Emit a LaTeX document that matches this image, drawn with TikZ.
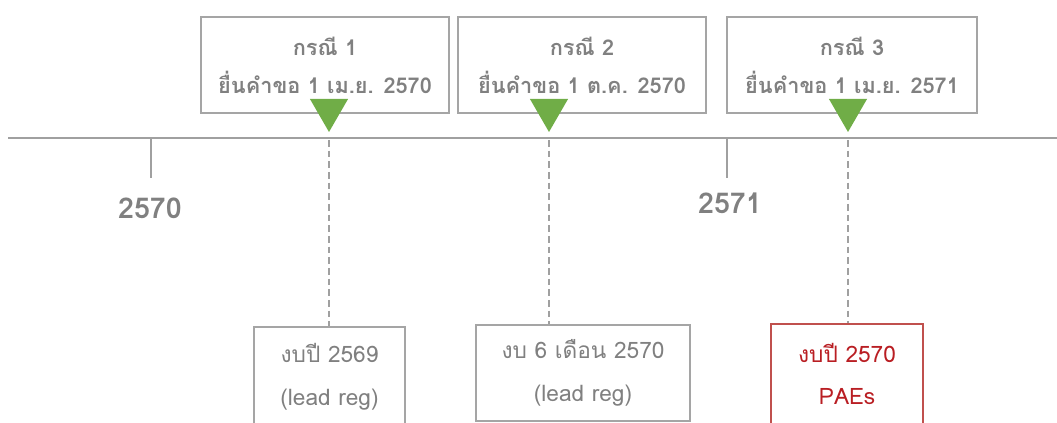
\documentclass[tikz,border=0pt]{standalone}
\usepackage{fontspec}
\setmainfont[Script=Thai]{Loma}
\usetikzlibrary{shapes.geometric}
\definecolor{txtgray}{RGB}{128,128,128}
\definecolor{linegray}{RGB}{160,160,160}
\definecolor{boxgray}{RGB}{165,165,165}
\definecolor{tgreen}{RGB}{112,173,71}
\definecolor{redline}{RGB}{192,80,77}
\definecolor{redtext}{RGB}{185,30,35}
\tikzset{
  topbox/.style={draw=boxgray, line width=1.1pt, minimum height=72pt, align=center,
    text=txtgray, font=\fontsize{16.3}{28.5}\selectfont\bfseries, inner sep=0pt},
  botbox/.style={draw=boxgray, line width=1.1pt, align=center, text=txtgray,
    font=\fontsize{17}{32}\selectfont, inner sep=0pt},
  redbox/.style={botbox, draw=redline, text=redtext},
  marker/.style={regular polygon, regular polygon sides=3, shape border rotate=180,
    fill=tgreen, minimum size=33pt, inner sep=0pt},
  axis/.style={draw=linegray, line width=2.2pt},
  tick/.style={draw=linegray, line width=2pt},
  year/.style={text=txtgray, font=\fontsize{21.5}{24}\selectfont\bfseries, inner sep=0pt},
  guide/.style={draw=linegray, line width=1.5pt, dash pattern=on 5pt off 3pt}
}
\begin{document}
\begin{tikzpicture}[x=0.75pt, y=-0.75pt]
\useasboundingbox (0,0) rectangle (1057,423);
\clip (0,0) rectangle (1057,423);
% axis
\coordinate (axL) at (8,138);
\coordinate (axR) at (1057,138);
\draw[axis] (axL) -- (axR);
\coordinate (t1) at (151,138);
\coordinate (t1e) at (151,178);
\coordinate (t2) at (727,138);
\coordinate (t2e) at (727,178);
\draw[tick] (t1) -- (t1e);
\draw[tick] (t2) -- (t2e);
\node[year] (y1) at (150,208) {2570};
\node[year] (y2) at (730,203) {2571};
% top boxes
\node[topbox, minimum width=186pt] (k1) at (325,65) {กรณี 1\\ยื่นคำขอ 1 เม.ย. 2570};
\node[topbox, minimum width=186pt] (k2) at (582,65) {กรณี 2\\ยื่นคำขอ 1 ต.ค. 2570};
\node[topbox, minimum width=187.5pt] (k3) at (852,65) {กรณี 3\\ยื่นคำขอ 1 เม.ย. 2571};
% markers
\node[marker] (m1) at (329,110) {};
\node[marker] (m2) at (549,110) {};
\node[marker] (m3) at (848,110) {};
% bottom boxes
\node[botbox, minimum width=113pt, minimum height=75pt] (b1) at (329.5,377) {งบปี 2569\\(lead reg)};
\node[botbox, minimum width=160.5pt, minimum height=72pt] (b2) at (583,373) {งบ 6 เดือน 2570\\(lead reg)};
\node[redbox, minimum width=114pt, minimum height=75pt] (b3) at (847,374) {งบปี 2570\\PAEs};
% guides
\coordinate (g1) at (329,140);
\coordinate (g2) at (549,140);
\coordinate (g3) at (848,140);
\draw[guide] (g1) -- (g1 |- b1.north);
\draw[guide] (g2) -- (g2 |- b2.north);
\draw[guide] (g3) -- (g3 |- b3.north);
\end{tikzpicture}
\end{document}
